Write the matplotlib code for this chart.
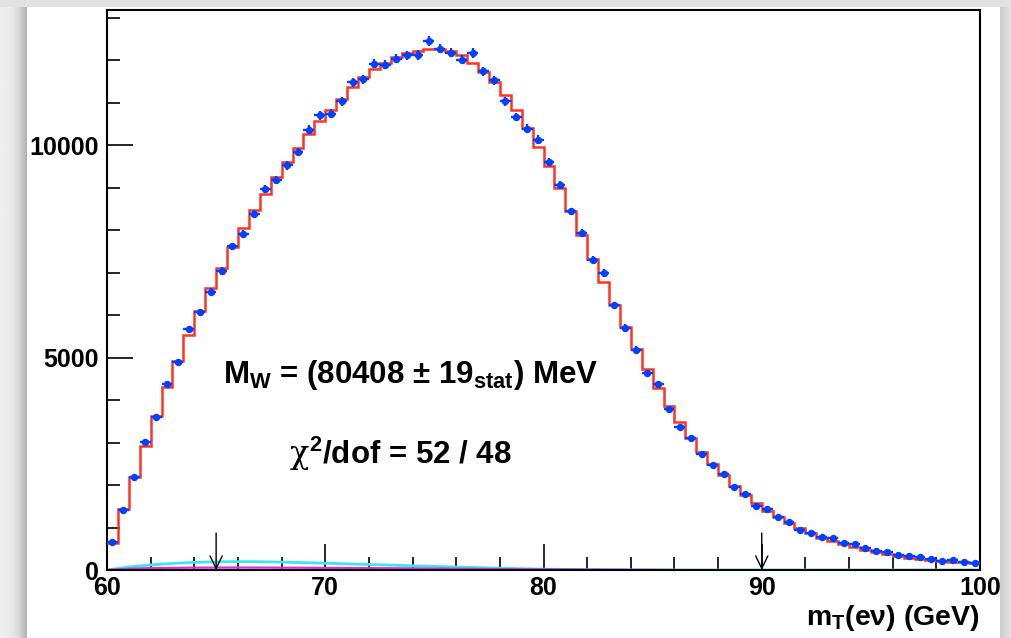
import numpy as np
import matplotlib
matplotlib.use("Agg")
import matplotlib.pyplot as plt
from matplotlib.patches import Rectangle

plt.rcParams['font.family'] = ['Liberation Sans', 'DejaVu Sans']
plt.rcParams['mathtext.fontset'] = 'custom'
plt.rcParams['mathtext.rm'] = 'Liberation Sans:bold'
plt.rcParams['mathtext.it'] = 'Liberation Sans:bold'
plt.rcParams['mathtext.bf'] = 'Liberation Sans:bold'

# ---- data ----
bin_edges = np.arange(60.0, 100.01, 0.5)
data_counts = [655, 1412, 2196, 3020, 3608, 4392, 4902, 5671, 6078, 6549,
               7043, 7624, 7922, 8392, 8980, 9176, 9529, 9843, 10369, 10706,
               10745, 11043, 11490, 11553, 11922, 11898, 12039, 12118, 12125, 12455,
               12275, 12180, 12016, 12172, 11741, 11529, 11035, 10666, 10392, 10133,
               9608, 9059, 8443, 7937, 7310, 6996, 6235, 5710, 5192, 4643,
               4392, 3780, 3357, 3098, 2729, 2470, 2255, 1961, 1788, 1506,
               1427, 1239, 1137, 941, 863, 784, 761, 643, 612, 510,
               447, 431, 353, 337, 298, 259, 212, 235, 196, 173]
fit_counts = [640, 1427, 2180, 2925, 3620, 4298, 4925, 5545, 6094, 6643,
              7122, 7608, 8055, 8470, 8863, 9255, 9608, 9937, 10259, 10573,
              10840, 11098, 11372, 11608, 11804, 11945, 12078, 12172, 12225, 12275,
              12275, 12220, 12118, 11945, 11725, 11490, 11176, 10824, 10408, 9961,
              9506, 8996, 8447, 7898, 7333, 6784, 6251, 5725, 5216, 4745,
              4290, 3859, 3475, 3113, 2784, 2486, 2235, 1976, 1765, 1569,
              1388, 1255, 1114, 980, 863, 761, 682, 604, 533, 471,
              416, 369, 329, 290, 259, 235, 212, 196, 180, 165]
bkg1_x = [60, 61, 62, 63, 64, 65, 66, 67, 68, 70, 72, 74, 76, 78, 80, 82, 84, 88, 100]
bkg1_y = [0, 70, 120, 155, 180, 192, 198, 195, 185, 160, 130, 100, 70, 42, 20, 8, 3, 0, 0]
bkg2_x = [60, 61, 62, 64, 66, 68, 70, 72, 74, 76, 78, 80, 82, 84, 86]
bkg2_y = [0, 30, 45, 55, 58, 55, 50, 45, 38, 30, 22, 16, 10, 5, 0]
arrow_x = [65, 90]
xticks_major = [60, 70, 80, 90, 100]
yticks_major = [0, 5000, 10000]
label_mw = r"M$_{W}$ = (80408 ± 19$_{stat}$) MeV"
label_chi_sym = "χ"
label_chi = r"$^{2}$/dof = 52 / 48"
xlabel = r"m$_{T}$(eν) (GeV)"

W, H = 1012, 638
fig = plt.figure(figsize=(W / 100, H / 100), dpi=100)
fig.patch.set_facecolor('#e2e2e2')
fig.patches.append(Rectangle((27 / W, 0), (1000 - 27) / W, (H - 7) / H,
                             transform=fig.transFigure, facecolor='white',
                             edgecolor='none', zorder=-10))
# left shadow
sh = fig.add_axes([0, 0, 27 / W, (H - 7) / H])
g = np.linspace(0, 1, 64)
shade = 0.93 - 0.25 * g ** 3
sh.imshow(np.tile(shade, (10, 1)), cmap='gray', vmin=0, vmax=1, aspect='auto',
          extent=[0, 1, 0, 1])
sh.axis('off')
# right shadow
sh2 = fig.add_axes([1000 / W, 0, 12 / W, (H - 7) / H])
shade2 = 0.80 + 0.10 * g
sh2.imshow(np.tile(shade2, (10, 1)), cmap='gray', vmin=0, vmax=1, aspect='auto',
           extent=[0, 1, 0, 1])
sh2.axis('off')

ax = fig.add_axes([107 / W, 68 / H, 873 / W, 560.5 / H])
ax.set_zorder(5)
ax.set_facecolor('white')
ax.set_xlim(60, 100)
ax.set_ylim(0, 13200)

data = np.array(data_counts, dtype=float)
centers = 0.5 * (bin_edges[:-1] + bin_edges[1:])

ax.plot(bkg1_x, bkg1_y, color='#3ee6f2', lw=2.0, zorder=2)
ax.plot(bkg2_x, bkg2_y, color='#e02ce0', lw=1.6, zorder=2.5)

ax.stairs(fit_counts, bin_edges, baseline=None, color='#ff3322', lw=1.8, zorder=3)
ax.errorbar(centers, data, xerr=0.25, yerr=np.sqrt(data), fmt='o', ms=4.3,
            color='#0040ff', ecolor='#0040ff', elinewidth=1.7, capsize=0, zorder=4)

for xa in arrow_x:
    ax.annotate("", xy=(xa, 0), xytext=(xa, 870),
                arrowprops=dict(arrowstyle='->,head_length=0.45,head_width=0.22',
                                mutation_scale=20, color='black', lw=1.0,
                                shrinkA=0, shrinkB=0), zorder=5)

ax.text(73.9, 4600, label_mw, ha='center', va='center', fontsize=22.5,
        fontweight='bold')
ax.text(69.25, 2720, label_chi_sym, ha='right', va='center', fontsize=23,
        fontweight='normal', family=['DejaVu Serif', 'DejaVu Sans'])
ax.text(69.25, 2720, label_chi, ha='left', va='center', fontsize=22.5,
        fontweight='bold')

ax.set_xticks(xticks_major)
ax.set_xticks(np.arange(60, 101, 2), minor=True)
ax.set_yticks(yticks_major)
ax.set_yticks(np.arange(0, 13001, 1000), minor=True)
ax.tick_params(which='major', direction='in', length=19, width=1.2,
               top=False, right=False, labelsize=18)
ax.tick_params(which='minor', direction='in', length=9.5, width=1.2,
               top=False, right=False)
ax.tick_params(axis='y', pad=6)
ax.tick_params(axis='x', pad=4)
for lab in ax.get_xticklabels() + ax.get_yticklabels():
    lab.set_fontweight('bold')
for s in ax.spines.values():
    s.set_linewidth(1.5)

fig.text(980 / W, (H - 618) / H, xlabel, ha='right', va='center',
         fontsize=20.5, fontweight='bold', zorder=6)

fig.savefig("out.png", dpi=100)
